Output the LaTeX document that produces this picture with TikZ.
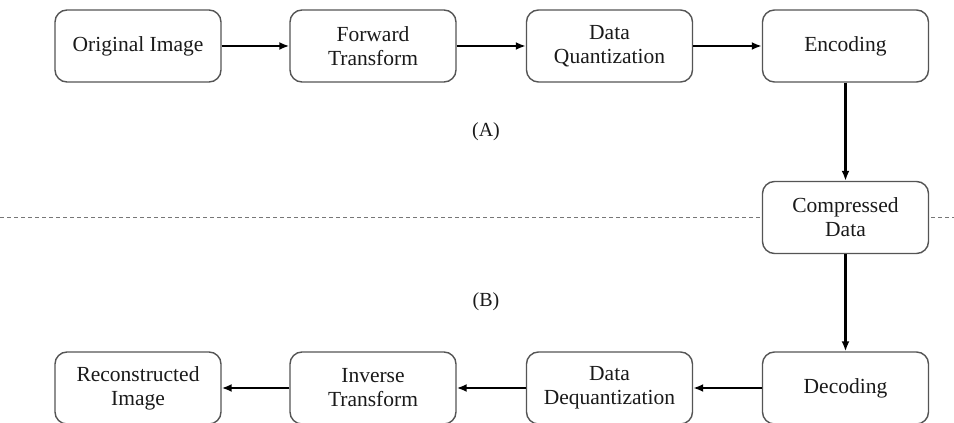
\documentclass[tikz,border=0pt]{standalone}
\usepackage{fontspec}
\setmainfont{Liberation Serif}
\usetikzlibrary{arrows.meta}
\definecolor{boxline}{HTML}{555555}
\definecolor{txt}{HTML}{1A1A1A}
\begin{document}
\begin{tikzpicture}[x=1pt,y=1pt,
  stage/.style={draw=boxline, line width=1.4pt, fill=white, rounded corners=12pt,
    minimum width=166pt, minimum height=72pt, inner sep=0pt, align=center,
    text=txt, font=\fontsize{21.5}{24}\selectfont},
  flow/.style={line width=2.7pt, draw=black, -{Latex[length=10pt,width=8pt]}},
  tag/.style={text=txt, font=\fontsize{20}{24}\selectfont}
]
\useasboundingbox (0,0) rectangle (954,423);
\fill[white] (0,0) rectangle (954,423);

% boundary between compression and decompression
\coordinate (sepL) at (0,205.5);
\coordinate (sepR) at (954,205.5);
\draw[boxline!80, line width=1pt, dash pattern=on 4pt off 3pt] (sepL) -- (sepR);

% compression stages
\node[stage] (orig) at (138,377) {Original Image};
\node[stage] (fwd)  at (373,377) {Forward\\Transform};
\node[stage] (quant) at (609.5,377) {Data\\Quantization};
\node[stage] (enc)  at (845.5,377) {Encoding};

% stored data
\node[stage] (comp) at (845.5,205.5) {Compressed\\Data};

% decompression stages
\node[stage] (dec)  at (845.5,35) {Decoding};
\node[stage] (dequant) at (609.5,35) {Data\\Dequantization};
\node[stage] (inv)  at (373,35) {Inverse\\Transform};
\node[stage] (recon) at (138,35) {Reconstructed\\Image};

% section labels
\node[tag] (labA) at (486,291) {(A)};
\node[tag] (labB) at (486,121) {(B)};

% connectors
\draw[flow] (orig) -- (fwd);
\draw[flow] (fwd) -- (quant);
\draw[flow] (quant) -- (enc);
\draw[flow] (enc) -- (comp);
\draw[flow] (comp) -- (dec);
\draw[flow] (dec) -- (dequant);
\draw[flow] (dequant) -- (inv);
\draw[flow] (inv) -- (recon);
\end{tikzpicture}
\end{document}
